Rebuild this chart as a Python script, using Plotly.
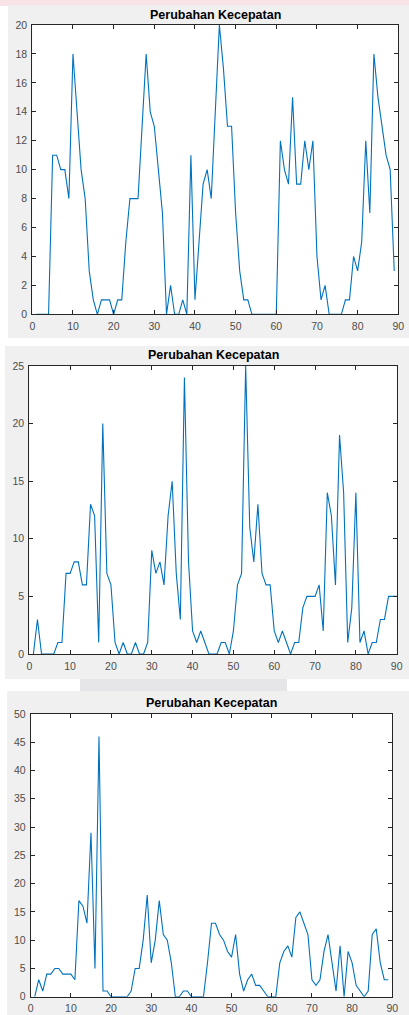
import plotly.graph_objects as go

# ---- data ----
x_ticks = [0, 10, 20, 30, 40, 50, 60, 70, 80, 90]
title_text = "Perubahan Kecepatan"

speed_change_1 = [0, 0, 0, 0, 11, 11, 10, 10, 8, 18, 14, 10, 8, 3, 1, 0, 1, 1, 1, 0,
                  1, 1, 5, 8, 8, 8, 13, 18, 14, 13, 10, 7, 0, 2, 0, 0, 1, 0, 11, 1,
                  5, 9, 10, 8, 14, 20, 17, 13, 13, 7, 3, 1, 1, 0, 0, 0, 0, 0, 0, 0,
                  12, 10, 9, 15, 9, 9, 12, 10, 12, 4, 1, 2, 0, 0, 0, 0, 1, 1, 4, 3,
                  5, 12, 7, 18, 15, 13, 11, 10, 3]
speed_change_2 = [0, 3, 0, 0, 0, 0, 1, 1, 7, 7, 8, 8, 6, 6, 13, 12, 1, 20, 7, 6,
                  1, 0, 1, 0, 0, 1, 0, 0, 1, 9, 7, 8, 6, 12, 15, 7, 3, 24, 8, 2,
                  1, 2, 1, 0, 0, 0, 1, 1, 0, 2, 6, 7, 25, 11, 8, 13, 7, 6, 6, 2,
                  1, 2, 1, 0, 1, 1, 4, 5, 5, 5, 6, 2, 14, 12, 6, 19, 14, 1, 4, 14,
                  1, 2, 0, 1, 1, 3, 3, 5, 5, 5]
speed_change_3 = [0, 3, 1, 4, 4, 5, 5, 4, 4, 4, 3, 17, 16, 13, 29, 5, 46, 1, 1, 0,
                  0, 0, 0, 0, 1, 5, 5, 10, 18, 6, 10, 17, 11, 10, 6, 0, 0, 1, 1, 0,
                  0, 0, 0, 6, 13, 13, 11, 10, 8, 7, 11, 4, 1, 3, 4, 2, 2, 1, 0, 0,
                  0, 6, 8, 9, 7, 14, 15, 13, 11, 3, 2, 3, 8, 11, 6, 1, 9, 0, 8, 6,
                  2, 1, 0, 1, 11, 12, 6, 3, 3]
y_ticks_1 = list(range(0, 21, 2))
y_ticks_2 = list(range(0, 26, 5))
y_ticks_3 = list(range(0, 51, 5))

series = [speed_change_1, speed_change_2, speed_change_3]
y_ticks = [y_ticks_1, y_ticks_2, y_ticks_3]

# ---- layout (pixels) ----
W, H = 409, 1015
# (left, right, top, bottom) of each axes box in pixels
boxes = [(32.3, 398.3, 25.0, 314.3),
         (29.3, 396.7, 366.0, 654.0),
         (30.7, 392.3, 714.0, 996.7)]
title_y = [15, 355, 703]
panels = [(8, 409, 5, 338), (5, 409, 346, 679), (7, 409, 691, 1015)]

fig = go.Figure()
line_color = "#0072BD"
axis_color = "#262626"
tick_font = dict(family="Liberation Sans, Arial", size=10.5, color="#4d4d4d")

for i, (ys, yt) in enumerate(zip(series, y_ticks)):
    n = i + 1
    sfx = str(n) if n > 1 else ""
    xs = list(range(1, len(ys) + 1))
    fig.add_trace(go.Scatter(x=xs, y=ys, mode="lines",
                             line=dict(color=line_color, width=1.1),
                             xaxis="x" + sfx, yaxis="y" + sfx,
                             showlegend=False, hoverinfo="skip"))
    l, r, t, b = boxes[i]
    common = dict(ticks="inside", ticklen=4, tickcolor=axis_color, tickwidth=1,
                  showline=True, linecolor=axis_color, linewidth=1, mirror="ticks",
                  showgrid=False, zeroline=False, tickfont=tick_font,
                  automargin=False, fixedrange=True, ticklabelstandoff=2)
    xa = dict(domain=[l / W, r / W], range=[0, 90], tickvals=x_ticks,
              anchor="y" + sfx, **common)
    ya = dict(domain=[1 - b / H, 1 - t / H], range=[0, yt[-1]], tickvals=yt,
              anchor="x" + sfx, **common)
    fig.update_layout(**{"xaxis" + sfx: xa, "yaxis" + sfx: ya})
    fig.add_annotation(text=f"<b>{title_text}</b>", x=(l + r) / 2 / W,
                       y=1 - title_y[i] / H, xref="paper", yref="paper",
                       showarrow=False, xanchor="center", yanchor="middle",
                       font=dict(family="Liberation Sans, Arial", size=12.5, color="#000000"))

shapes = []
# pinkish top strip
shapes.append(dict(type="rect", xref="paper", yref="paper", x0=0, x1=1,
                   y0=1 - 6 / H, y1=1, fillcolor="#f9e3e6", line=dict(width=0), layer="below"))
for (l, r, t, b) in panels:
    shapes.append(dict(type="rect", xref="paper", yref="paper", x0=l / W, x1=r / W,
                       y0=1 - b / H, y1=1 - t / H, fillcolor="#f0f0f0",
                       line=dict(width=0), layer="below"))
# darker strip between panel 2 and 3
shapes.append(dict(type="rect", xref="paper", yref="paper", x0=80 / W, x1=287 / W,
                   y0=1 - 691 / H, y1=1 - 679 / H, fillcolor="#e6e6e8",
                   line=dict(width=0), layer="below"))
# white plotting areas
for (l, r, t, b) in boxes:
    shapes.append(dict(type="rect", xref="paper", yref="paper", x0=l / W, x1=r / W,
                       y0=1 - b / H, y1=1 - t / H, fillcolor="#ffffff",
                       line=dict(width=0), layer="below"))

fig.update_layout(template="none", width=W, height=H,
                  margin=dict(l=0, r=0, t=0, b=0, pad=0),
                  paper_bgcolor="#ffffff", plot_bgcolor="#ffffff",
                  shapes=shapes, showlegend=False)

fig.write_html("out.html", config={"displayModeBar": False},
               post_script="document.body.style.margin='0';document.body.style.padding='0';document.body.style.overflow='hidden';")
